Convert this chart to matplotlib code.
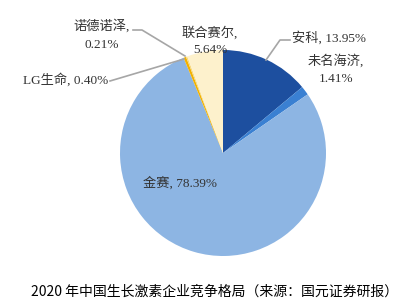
import matplotlib.pyplot as plt

names = ['安科', '未名海济', '金赛', 'LG生命', '诺德诺泽', '联合赛尔']
shares = [13.95, 1.41, 78.39, 0.40, 0.21, 5.64]
colors = ['#1d4f9f', '#3a80d2', '#8db5e3', '#f2b100', '#f7d97a', '#fdf1cc']

W, H = 403, 306
fig = plt.figure(figsize=(W / 100, H / 100), dpi=100)
ax = fig.add_axes([0, 0, 1, 1])

cx, cy, r = 223, H - 153, 103
ax.pie(shares, colors=colors, startangle=90, counterclock=False,
       center=(cx, cy), radius=r, frame=True,
       wedgeprops=dict(linewidth=0))
ax.set_xlim(0, W)
ax.set_ylim(0, H)
ax.set_aspect('equal')
ax.axis('off')

lab = dict(family=['Liberation Serif', 'Noto Sans CJK SC'], fontsize=9.5, color='#333333')
line = dict(color='#a6a6a6', lw=1.2)

def y(p):
    return H - p

# labels and leader lines
ax.text(292, y(38), f'{names[0]}, {shares[0]:.2f}%', ha='left', va='center', **lab)
ax.plot([266, 280, 290], [y(60), y(40), y(40)], **line)
ax.text(336, y(61), f'{names[1]},', ha='center', va='center', **lab)
ax.text(336, y(79), f'{shares[1]:.2f}%', ha='center', va='center', **lab)
ax.text(180, y(183), f'{names[2]}, {shares[2]:.2f}%', ha='center', va='center', **lab)
ax.text(66, y(80), f'{names[3]}, {shares[3]:.2f}%', ha='center', va='center', **lab)
ax.plot([110, 184, 184], [y(81), y(59), y(59)], **line)
ax.text(102, y(26), f'{names[4]},', ha='center', va='center', **lab)
ax.text(102, y(45), f'{shares[4]:.2f}%', ha='center', va='center', **lab)
ax.plot([133, 142, 185], [y(30), y(30), y(56)], **line)
ax.text(210, y(33), f'{names[5]},', ha='center', va='center', **lab)
ax.text(210, y(50), f'{shares[5]:.2f}%', ha='center', va='center', **lab)

ax.text(215, y(292), '2020 年中国生长激素企业竞争格局（来源：国元证券研报）',
        ha='center', va='center', fontsize=10,
        family=['Noto Sans CJK SC', 'DejaVu Sans'], color='#000000')

fig.savefig('out.png', dpi=100)
